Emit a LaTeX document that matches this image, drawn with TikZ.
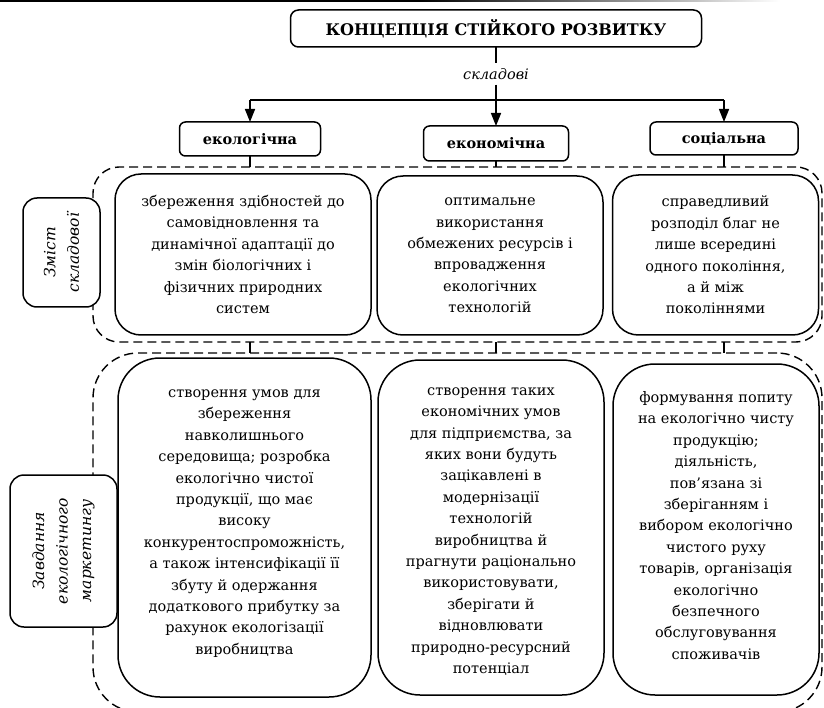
\documentclass[tikz,border=0pt]{standalone}
\usepackage{fontspec}
\setmainfont{DejaVu Serif}
\usetikzlibrary{arrows.meta}
\begin{document}
\begin{tikzpicture}[x=1pt,y=-1pt,
  every node/.style={inner sep=0pt, outer sep=0pt},
  ln/.style={line width=1.5pt},
  arr/.style={line width=1.5pt, -{Triangle[length=13pt,width=10pt]}},
  region/.style={draw, line width=1.4pt, dash pattern=on 9pt off 5pt},
  titlebox/.style={draw, line width=1.5pt, rounded corners=8pt, font=\fontsize{16}{20}\bfseries\selectfont},
  compbox/.style={draw, line width=1.5pt, rounded corners=6pt, font=\fontsize{14.5}{18}\bfseries\selectfont},
  ubox/.style={draw, fill=white, line width=1.5pt, rounded corners=26pt, align=center, font=\fontsize{14.5}{21.4}\selectfont},
  lbox/.style={draw, fill=white, line width=1.5pt, rounded corners=42pt, align=center, font=\fontsize{14.5}{21.4}\selectfont},
  sidebox/.style={draw, fill=white, line width=1.5pt, rounded corners=14pt, align=center, rotate=90, font=\fontsize{15.5}{23.5}\itshape\selectfont},
  btext/.style={align=center, font=\fontsize{14.5}{21.4}\selectfont},
]
\useasboundingbox (0,0) rectangle (824,708);
\clip (0,0) rectangle (824,708);
% header rule
\fill[black] (0,0) rectangle (420,2);
\shade[left color=black, right color=white] (420,0) rectangle (780,2);

% title and components
\node[titlebox, minimum width=411pt, minimum height=37pt] (title) at (496,28.5) {КОНЦЕПЦІЯ СТІЙКОГО РОЗВИТКУ};
\node[font=\fontsize{14.5}{18}\itshape\selectfont, inner ysep=5pt] (skl) at (496,74) {складові};
\coordinate (jn) at (496,100);
\coordinate (jl) at (250,100);
\coordinate (jr) at (724,100);
\node[compbox, minimum width=141pt, minimum height=34pt] (ekol) at (250,139) {екологічна};
\node[compbox, minimum width=145pt, minimum height=35pt] (ekon) at (496,143.5) {економічна};
\node[compbox, minimum width=148pt, minimum height=33pt] (soc) at (724,138.5) {соціальна};

\draw[ln] (title.south) -- (skl.north);
\draw[ln] (skl.south) -- (jn);
\draw[ln] (jl) -- (jr);
\draw[arr] (jl) -- (ekol.north);
\draw[arr] (jn) -- (ekon.north);
\draw[arr] (jr) -- (soc.north);

% dashed regions
\node[region, rounded corners=26pt, minimum width=729pt, minimum height=175pt] (r1) at (457.5,254.5) {};
\node[region, rounded corners=45pt, minimum width=729pt, minimum height=359pt] (r2) at (457.5,532.5) {};

\draw[ln] (ekol.south) -- (ekol.south |- r1.north);
\draw[ln] (ekon.south) -- (ekon.south |- r1.north);
\draw[ln] (soc.south) -- (soc.south |- r1.north);
\draw[ln] (r1.south -| ekol.south) -- (r2.north -| ekol.south);
\draw[ln] (r1.south -| ekon.south) -- (r2.north -| ekon.south);
\draw[ln] (r1.south -| soc.south) -- (r2.north -| soc.south);

% side labels
\node[sidebox, minimum width=109pt, minimum height=77pt] (s1) at (61.5,252.5) {Зміст\\складової};
\node[sidebox, minimum width=152pt, minimum height=107pt] (s2) at (63.5,551) {Завдання\\екологічного\\маркетингу};

% upper boxes
\node[ubox, minimum width=256pt, minimum height=161pt] (b1) at (243,254.5) {збереження здібностей до\\самовідновлення та\\динамічної адаптації до\\змін біологічних і\\фізичних природних\\систем};
\node[ubox, minimum width=226pt, minimum height=159pt] (b2) at (490,255.5) {оптимальне\\використання\\обмежених ресурсів і\\впровадження\\екологічних\\технологій};
\node[ubox, minimum width=206pt, minimum height=160pt] (b3) at (715.5,255) {справедливий\\розподіл благ не\\лише всередині\\одного покоління,\\а й між\\поколіннями};

% lower boxes
\node[lbox, minimum width=253pt, minimum height=339pt] (b4) at (244.5,527.5) {};
\node[lbox, minimum width=226pt, minimum height=335pt] (b5) at (491,527.5) {};
\node[lbox, minimum width=206pt, minimum height=331pt] (b6) at (716,529.5) {};
\node[btext] (t4) at ([yshift=4pt]b4.center) {створення умов для\\збереження\\навколишнього\\середовища; розробка\\екологічно чистої\\продукції, що має\\високу\\конкурентоспроможність,\\а також інтенсифікації її\\збуту й одержання\\додаткового прибутку за\\рахунок екологізації\\виробництва};
\node[btext] (t5) at ([yshift=-4pt]b5.center) {створення таких\\економічних умов\\для підприємства, за\\яких вони будуть\\зацікавлені в\\модернізації\\технологій\\виробництва й\\прагнути раціонально\\використовувати,\\зберігати й\\відновлювати\\природно-ресурсний\\потенціал};
\node[btext] (t6) at ([yshift=4pt]b6.center) {формування попиту\\на екологічно чисту\\продукцію;\\діяльність,\\пов’язана зі\\зберіганням і\\вибором екологічно\\чистого руху\\товарів, організація\\екологічно\\безпечного\\обслуговування\\споживачів};
\end{tikzpicture}
\end{document}
